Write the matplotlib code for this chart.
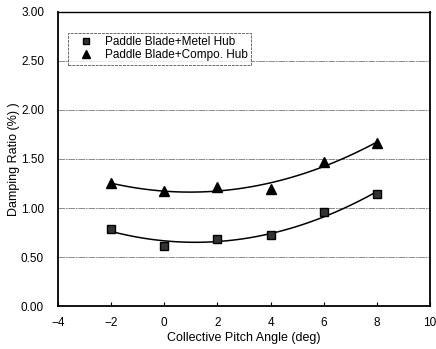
import matplotlib

matplotlib.use("Agg", force=True)
import matplotlib.pyplot as plt
import numpy as np

plt.rcParams["font.family"] = ["Liberation Sans", "DejaVu Sans"]

pitch = [-2, 0, 2, 4, 6, 8]
metal_hub = [0.79, 0.61, 0.68, 0.72, 0.96, 1.14]
compo_hub = [1.25, 1.17, 1.21, 1.19, 1.47, 1.66]

x_ticks = [-4, -2, 0, 2, 4, 6, 8, 10]
y_ticks = [0.0, 0.5, 1.0, 1.5, 2.0, 2.5, 3.0]

fig = plt.figure(figsize=(4.36, 3.49), dpi=100)
ax = fig.add_axes([0.133, 0.123, 0.853, 0.843])

for yv in y_ticks[1:-1]:
    ax.axhline(yv, color="#777777", linewidth=0.6, linestyle=(0, (8, 1, 2, 1)), zorder=1)

xfit = np.linspace(min(pitch), max(pitch), 100)
for vals in (metal_hub, compo_hub):
    coef = np.polyfit(pitch, vals, 2)
    ax.plot(xfit, np.polyval(coef, xfit), color="black", linewidth=1.1, zorder=2)

ax.plot(pitch, metal_hub, linestyle="none", marker="s", markersize=5.5,
        markerfacecolor="#333333", markeredgecolor="black",
        label="Paddle Blade+Metel Hub", zorder=3)
ax.plot(pitch, compo_hub, linestyle="none", marker="^", markersize=6.5,
        markerfacecolor="black", markeredgecolor="black",
        label="Paddle Blade+Compo. Hub", zorder=3)

ax.set_xlim(-4, 10)
ax.set_ylim(0, 3)
ax.set_xticks(x_ticks)
ax.set_yticks(y_ticks)
ax.set_yticklabels([f"{v:.2f}" for v in y_ticks])
ax.tick_params(axis="both", direction="in", length=3, labelsize=8.5, pad=8)
ax.tick_params(axis="y", length=0, pad=10)

for side in ("left", "bottom", "right"):
    ax.spines[side].set_linewidth(1.3)
ax.spines["top"].set_linewidth(1.0)

ax.set_xlabel("Collective Pitch Angle (deg)", fontsize=9, labelpad=2)
ax.set_ylabel("Damping Ratio (%) )", fontsize=9, labelpad=1)

leg = ax.legend(loc="upper left", bbox_to_anchor=(0.027, 0.929), borderaxespad=0,
                fontsize=8.5, frameon=True, fancybox=False, borderpad=0.3,
                handletextpad=0.4, labelspacing=0.1, handlelength=2.4,
                markerscale=0.85)
leg.get_frame().set_edgecolor("#444444")
leg.get_frame().set_linewidth(0.7)
leg.get_frame().set_linestyle((0, (3, 1)))

fig.savefig("out.png")
plt.close(fig)
